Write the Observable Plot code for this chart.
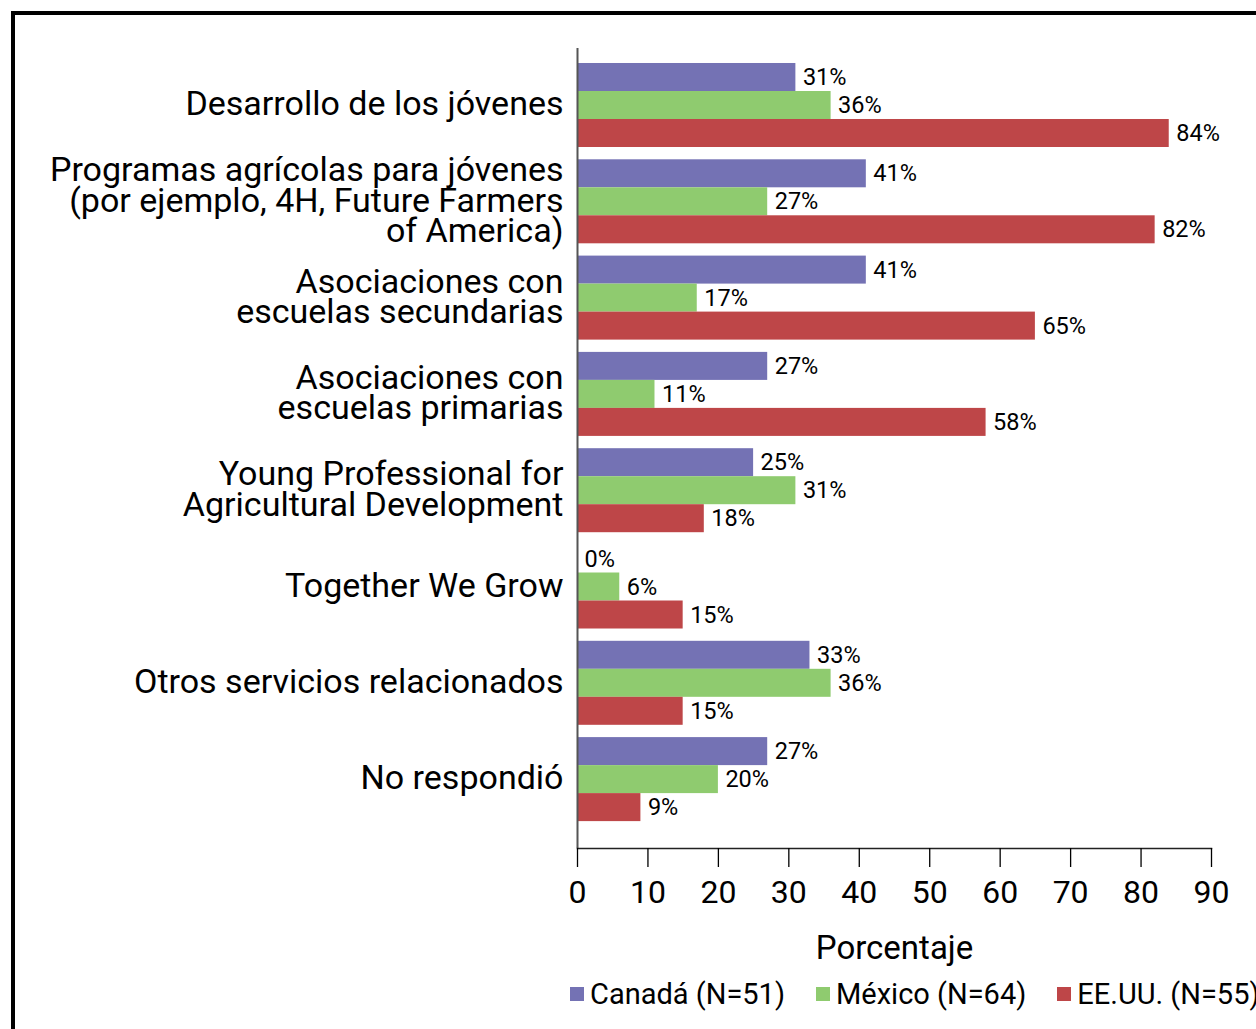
<!DOCTYPE html>
<html>
<head>
<meta charset="utf-8">
<script src="https://cdn.jsdelivr.net/npm/d3@7"></script>
<script src="https://cdn.jsdelivr.net/npm/@observablehq/plot@0.6"></script>
<style>
  html, body { margin: 0; padding: 0; background: #fff; width: 1256px; height: 1029px; overflow: hidden; }
  #frame { position: absolute; left: 11px; top: 11px; width: 1400px; height: 1200px; border-left: 4px solid #000; border-top: 4px solid #000; box-sizing: border-box; }
  #chart { position: absolute; left: 0; top: 0; }
  #legend { position: absolute; left: 570px; top: 977px; font-family: Roboto, sans-serif; font-size: 29px; color: #000; white-space: nowrap; display: flex; align-items: center; }
  #legend .item { display: inline-flex; align-items: center; margin-right: 31px; }
  #legend .sw { display: inline-block; width: 14px; height: 14px; margin-right: 6px; }
</style>
</head>
<body>
<div id="frame"></div>
<div id="chart"></div>
<div id="legend"></div>
<script>
const categories = [
  "Desarrollo de los jóvenes",
  "Programas agrícolas para jóvenes\n(por ejemplo, 4H, Future Farmers\nof America)",
  "Asociaciones con\nescuelas secundarias",
  "Asociaciones con\nescuelas primarias",
  "Young Professional for\nAgricultural Development",
  "Together We Grow",
  "Otros servicios relacionados",
  "No respondió"
];
const series = ["Canadá (N=51)", "México (N=64)", "EE.UU. (N=55)"];
const canada = [31, 41, 41, 27, 25, 0, 33, 27];
const mexico = [36, 27, 17, 11, 31, 6, 36, 20];
const eeuu   = [84, 82, 65, 58, 18, 15, 15, 9];
const colors = ["#7472B4", "#8FCB6F", "#BE4648"];
const xTicks = [0, 10, 20, 30, 40, 50, 60, 70, 80, 90];

const values = [canada, mexico, eeuu];
const rows = [];
series.forEach((s, si) => categories.forEach((c, ci) => rows.push({category: c, series: s, si, value: values[si][ci]})));

const bw = 84;
const barMarks = [];
series.forEach((s, si) => {
  const d = rows.filter(r => r.si === si);
  barMarks.push(Plot.barX(d, {
    x: "value", y: "category", fill: "series",
    insetTop: si * bw / 3, insetBottom: (2 - si) * bw / 3
  }));
  barMarks.push(Plot.text(d, {
    x: "value", y: "category", text: r => r.value + "%",
    dx: 7, dy: (si - 1) * bw / 3, textAnchor: "start",
    fontSize: 23.5, fill: "#000"
  }));
});

const chart = Plot.plot({
  width: 1256,
  height: 970,
  marginLeft: 577,
  marginRight: 45,
  marginTop: 48,
  marginBottom: 122,
  style: {fontFamily: "Roboto, sans-serif", color: "#000", background: "transparent"},
  x: {domain: [0, 90], ticks: xTicks},
  y: {domain: categories, paddingInner: 0.1277, paddingOuter: 0.2175, align: 0.358, round: false},
  color: {domain: series, range: colors},
  marks: [
    ...barMarks,
    Plot.ruleX([0], {stroke: "#555", strokeWidth: 2}),
    Plot.frame({anchor: "bottom", stroke: "#222", strokeWidth: 1.5}),
    Plot.axisY({tickSize: 0, tickPadding: 14, fontSize: 34, lineHeight: 0.9, label: null, textAnchor: "end"}),
    Plot.axisX(xTicks, {tickSize: 19, tickPadding: 13, fontSize: 32, tickFormat: d => String(d), strokeWidth: 1.3,
      label: "Porcentaje", labelAnchor: "center", labelArrow: "none", labelOffset: 110})
  ]
});
document.getElementById("chart").appendChild(chart);

// enlarge axis label to match reference
d3.select(chart).selectAll("text").filter(function() { return this.textContent === "Porcentaje"; })
  .attr("font-size", 33);

const legend = document.getElementById("legend");
series.forEach((s, i) => {
  const item = document.createElement("span");
  item.className = "item";
  const sw = document.createElement("span");
  sw.className = "sw";
  sw.style.background = colors[i];
  item.appendChild(sw);
  item.appendChild(document.createTextNode(s));
  legend.appendChild(item);
});
</script>
</body>
</html>
